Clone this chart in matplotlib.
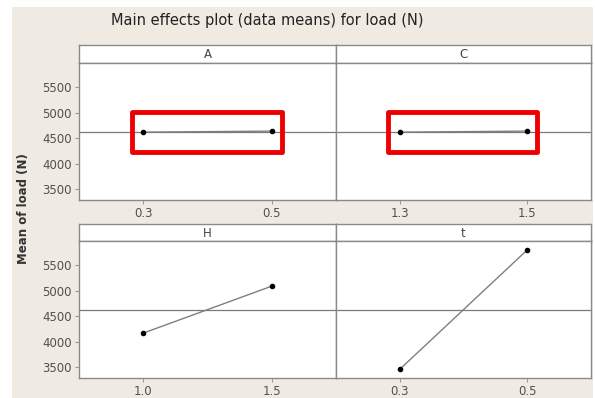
import matplotlib.pyplot as plt
from matplotlib.patches import Rectangle

# factor levels and mean load for each level
factors = ['A', 'C', 'H', 't']
levels = [['0.3', '0.5'], ['1.3', '1.5'], ['1.0', '1.5'], ['0.3', '0.5']]
means = [[4620, 4640], [4620, 4640], [4170, 5090], [3460, 5800]]
grand_mean = 4630
yticks = [3500, 4000, 4500, 5000, 5500]
boxed = ['A', 'C']

W, H = 595, 398
fig = plt.figure(figsize=(W / 100, H / 100), dpi=100, facecolor='white')
fig.patches.append(Rectangle((12 / W, 0), 581 / W, 391 / H, transform=fig.transFigure,
                             facecolor='#efebe3', edgecolor='none', zorder=-10))

def box(x0, y0, x1, y1):
    # pixel box (top-left origin) -> figure fraction
    return [x0 / W, 1 - y1 / H, (x1 - x0) / W, (y1 - y0) / H]

cols = [(79, 336), (336, 591)]
rows = [(45, 63, 200), (224, 241, 378)]
frame = '#8a8a8a'

for i, f in enumerate(factors):
    r, c = divmod(i, 2)
    x0, x1 = cols[c]
    st, pt, pb = rows[r]

    strip = fig.add_axes(box(x0, st, x1, pt))
    strip.set_xticks([]); strip.set_yticks([])
    strip.set_facecolor('white')
    for s in strip.spines.values():
        s.set_color(frame); s.set_linewidth(1)
    strip.text(0.5, 0.45, f, ha='center', va='center', fontsize=8.5, color='#444444',
               transform=strip.transAxes)

    ax = fig.add_axes(box(x0, pt, x1, pb))
    ax.set_facecolor('white')
    ax.axhline(grand_mean, color='#7a7a7a', lw=0.9, zorder=1)
    ax.plot([0, 1], means[i], color='#7f7f7f', lw=1, zorder=2)
    ax.plot([0, 1], means[i], 'o', color='black', ms=3, zorder=3)
    if f in boxed:
        ax.add_patch(Rectangle((-0.09, 4225), 1.17, 780, fill=False,
                               edgecolor='#ee0000', lw=3.5, zorder=4,
                               joinstyle='round'))
    ax.set_xlim(-0.5, 1.5)
    ax.set_ylim(3290, 5975)
    ax.set_xticks([0, 1])
    ax.set_xticklabels(levels[i])
    ax.set_yticks(yticks)
    if c == 0:
        ax.set_yticklabels([str(v) for v in yticks])
    else:
        ax.tick_params(axis='y', left=False, labelleft=False)
    ax.tick_params(colors='#9a9a9a', labelcolor='#505050', labelsize=8.5,
                   length=3, width=0.8, pad=2)
    for s in ax.spines.values():
        s.set_color(frame); s.set_linewidth(1)

fig.text(267 / W, 1 - 20 / H, 'Main effects plot (data means) for load (N)',
         ha='center', va='center', fontsize=10.5, color='#222222')
fig.text(24 / W, 1 - 209 / H, 'Mean of load (N)', rotation=90, ha='center', va='center',
         fontsize=8.5, color='#333333', fontweight='bold')

fig.savefig('out.png', dpi=100, facecolor=fig.get_facecolor())
